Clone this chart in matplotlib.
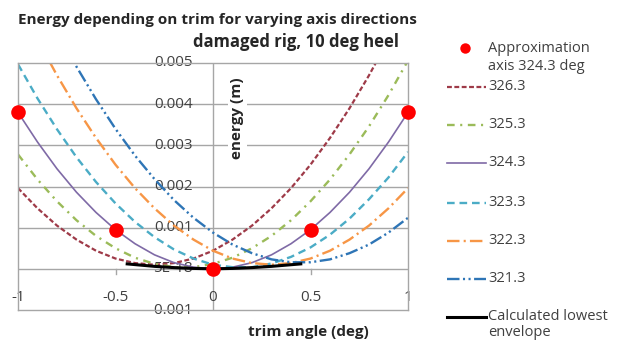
import matplotlib.pyplot as plt
from matplotlib.lines import Line2D

plt.rcParams['font.family'] = ['Open Sans', 'DejaVu Sans']
plt.rcParams['lines.scale_dashes'] = False

# trim angle (deg) where the curves were sampled
trim = [-1.0, -0.9, -0.8, -0.7, -0.6, -0.5, -0.4, -0.3, -0.2, -0.1, 0.0,
        0.1, 0.2, 0.3, 0.4, 0.5, 0.6, 0.7, 0.8, 0.9, 1.0]

# energy (m) for each axis direction
e_326 = [0.00196, 0.00147, 0.00105, 0.00071, 0.00044, 0.00025, 0.00014, 0.00010, 0.00014, 0.00025, 0.00044,
         0.00071, 0.00105, 0.00147, 0.00196, 0.00253, 0.00318, 0.00390, 0.00470, 0.00557, 0.00652]
e_325 = [0.00278, 0.00217, 0.00164, 0.00118, 0.00080, 0.00050, 0.00027, 0.00012, 0.00004, 0.00004, 0.00012,
         0.00027, 0.00050, 0.00080, 0.00118, 0.00164, 0.00217, 0.00278, 0.00346, 0.00422, 0.00506]
e_324 = [0.00380, 0.00308, 0.00243, 0.00186, 0.00137, 0.00095, 0.00061, 0.00034, 0.00015, 0.00004, 0.0,
         0.00004, 0.00015, 0.00034, 0.00061, 0.00095, 0.00137, 0.00186, 0.00243, 0.00308, 0.00380]
e_323 = [0.00497, 0.00414, 0.00339, 0.00271, 0.00211, 0.00159, 0.00114, 0.00077, 0.00047, 0.00025, 0.00010,
         0.00004, 0.00004, 0.00013, 0.00029, 0.00052, 0.00083, 0.00122, 0.00169, 0.00222, 0.00284]
e_322 = [0.00652, 0.00557, 0.00470, 0.00390, 0.00318, 0.00253, 0.00196, 0.00147, 0.00105, 0.00071, 0.00044,
         0.00025, 0.00014, 0.00010, 0.00014, 0.00025, 0.00044, 0.00071, 0.00105, 0.00147, 0.00196]
e_321 = [0.00772, 0.00671, 0.00578, 0.00491, 0.00412, 0.00340, 0.00275, 0.00218, 0.00167, 0.00124, 0.00088,
         0.00059, 0.00038, 0.00023, 0.00016, 0.00016, 0.00023, 0.00038, 0.00059, 0.00088, 0.00124]

# calculated lowest envelope
env_trim = [-0.44, -0.3, -0.2, -0.1, 0.0, 0.1, 0.2, 0.3, 0.45]
env_energy = [0.00012, 0.00006, 0.00003, 0.00001, 0.0, 0.00001, 0.00003, 0.00006, 0.00012]

# approximation for axis 324.3 deg
approx_trim = [-1.0, -0.5, 0.0, 0.5, 1.0]
approx_energy = [0.0038, 0.00095, 0.0, 0.00095, 0.0038]

x_ticks = [-1, -0.5, 0, 0.5, 1]
x_labels = ['-1', '-0.5', '0', '0.5', '1']
y_ticks = [-0.001, 0.0, 0.001, 0.002, 0.003, 0.004, 0.005]
y_labels = ['-0.001', '5E-18', '0.001', '0.002', '0.003', '0.004', '0.005']

series = [
    ('326.3', e_326, '#9E3A48', 1.6, (0, (3.5, 1.8))),
    ('325.3', e_325, '#9BBB59', 1.7, (0, (5.5, 4, 1.5, 4))),
    ('324.3', e_324, '#7F6AA6', 1.2, '-'),
    ('323.3', e_323, '#4BACC6', 1.7, (0, (5.5, 3.5))),
    ('322.3', e_322, '#F79646', 1.7, (0, (9, 3, 1.5, 3))),
    ('321.3', e_321, '#2E75B6', 1.7, (0, (9, 2.5, 1.5, 2.5, 1.5, 2.5))),
]

grey = '#A6A6A6'
txt = '#404040'
fs = 11

fig = plt.figure(figsize=(6.21, 3.40), dpi=100)
ax = fig.add_axes([18 / 621, 30 / 340, 390 / 621, 247 / 340])
ax.set_xlim(-1, 1)
ax.set_ylim(-0.001, 0.005)
ax.set_xticks([])
ax.set_yticks([])
for s in ax.spines.values():
    s.set_color(grey)
    s.set_linewidth(1.0)

# gridlines and the axis at trim 0
for v in y_ticks[1:-1]:
    ax.axhline(v, color=grey, lw=1.0, zorder=0)
ax.axvline(0, color=grey, lw=1.0, zorder=0)
for v in x_ticks[1:-1]:
    ax.plot([v, v], [0, -0.00012], color=grey, lw=1.0, zorder=0)

# tick labels sit next to the axes crossing at the origin
for v, lab in zip(y_ticks, y_labels):
    ax.text(-0.103, v, lab, ha='right', va='center', fontsize=fs,
            color=txt, zorder=0.5)
for v, lab in zip(x_ticks, x_labels):
    ax.text(v, -0.0007, lab, ha='center', va='center', fontsize=fs,
            color=txt, zorder=0.5)

for name, vals, col, lw, ls in series:
    ax.plot(trim, vals, color=col, lw=lw, linestyle=ls, zorder=2)
ax.plot(env_trim, env_energy, color='black', lw=2.2, zorder=3)
ax.plot(approx_trim, approx_energy, 'o', color='#FF0000', ms=10.5,
        markeredgewidth=0, zorder=4, clip_on=False)

ax.text(0.125, 0.00365, 'energy (m)', rotation=90, ha='center', va='center',
        fontsize=fs, fontweight='bold', color='#262626', zorder=1,
        bbox=dict(facecolor='white', edgecolor='none', pad=2))

fig.text(18 / 621, 1 - 20 / 340, 'Energy depending on trim for varying axis directions',
         ha='left', va='center', fontsize=11, fontweight='bold', color='#262626')
fig.text(296 / 621, 1 - 42 / 340, 'damaged rig, 10 deg heel',
         ha='center', va='center', fontsize=12, fontweight='bold', color='#262626')
fig.text(308 / 621, 1 - 332 / 340, 'trim angle (deg)',
         ha='center', va='center', fontsize=fs, fontweight='bold', color='#262626')

# legend on the right
lax = fig.add_axes([0, 0, 1, 1])
lax.set_xlim(0, 621)
lax.set_ylim(340, 0)
lax.axis('off')
lax.add_line(Line2D([465], [48], marker='o', color='#FF0000', ms=7.5, markeredgewidth=0))
lax.text(488, 48, 'Approximation', ha='left', va='center', fontsize=10.5, color=txt)
lax.text(488, 66, 'axis 324.3 deg', ha='left', va='center', fontsize=10.5, color=txt)
leg_y = [87, 125, 163, 203, 241, 279]
for (name, vals, col, lw, ls), yy in zip(series, leg_y):
    lax.add_line(Line2D([447, 486], [yy, yy], color=col, lw=lw, linestyle=ls))
    lax.text(488, yy, name, ha='left', va='center', fontsize=10.5, color=txt)
lax.add_line(Line2D([447, 486], [317, 317], color='black', lw=2.2))
lax.text(488, 317, 'Calculated lowest', ha='left', va='center', fontsize=10.5, color=txt)
lax.text(488, 333, 'envelope', ha='left', va='center', fontsize=10.5, color=txt)

fig.savefig('out.png', dpi=100)
